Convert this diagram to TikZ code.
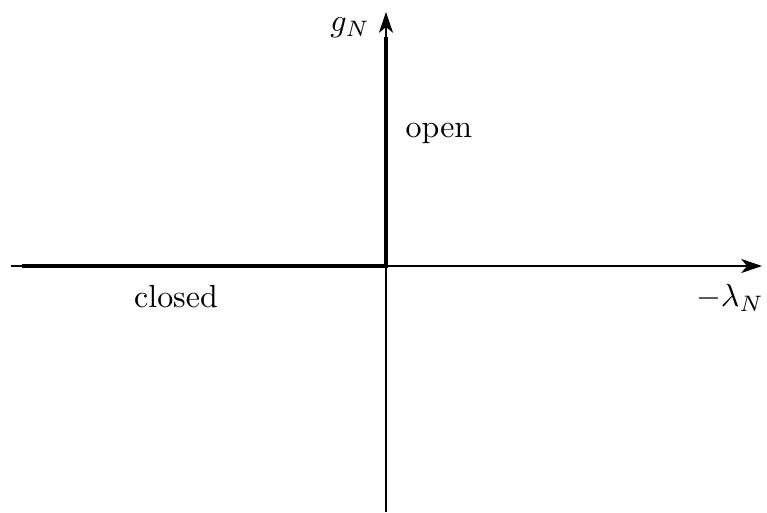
\documentclass[tikz,border=0pt]{standalone}
\usepackage{amsmath}
\usepackage{amssymb}
\usepackage{tikz}
\usetikzlibrary{arrows.meta}

\begin{document}
\begin{tikzpicture}[x=0.011cm,y=0.011cm]
            \useasboundingbox (-386,-246) rectangle (381,266);
            \coordinate (O) at (0,0);
            \coordinate (xl) at (-375,0);
            \coordinate (xr) at (376,0);
            \coordinate (yb) at (0,-246);
            \coordinate (yt) at (0,254);
            \coordinate (cl) at (-364,0);
            \coordinate (op) at (0,229);
            \draw[-{Stealth[length=6.5pt,width=4.4pt,inset=1.8pt]}] (xl) -- (xr);
            \draw[-{Stealth[length=6.5pt,width=4.4pt,inset=1.8pt]}] (yb) -- (yt);
            \draw[line width=1.2pt] (cl) -- (O) -- (op);
            \node (gN) at (-36,238) {\(g_N\)};
            \node (lam) at (344,-32) {\(-\lambda_N\)};
            \node (open) at (53,133) {open};
            \node (closed) at (-210,-31) {closed};
        \end{tikzpicture}
\end{document}
